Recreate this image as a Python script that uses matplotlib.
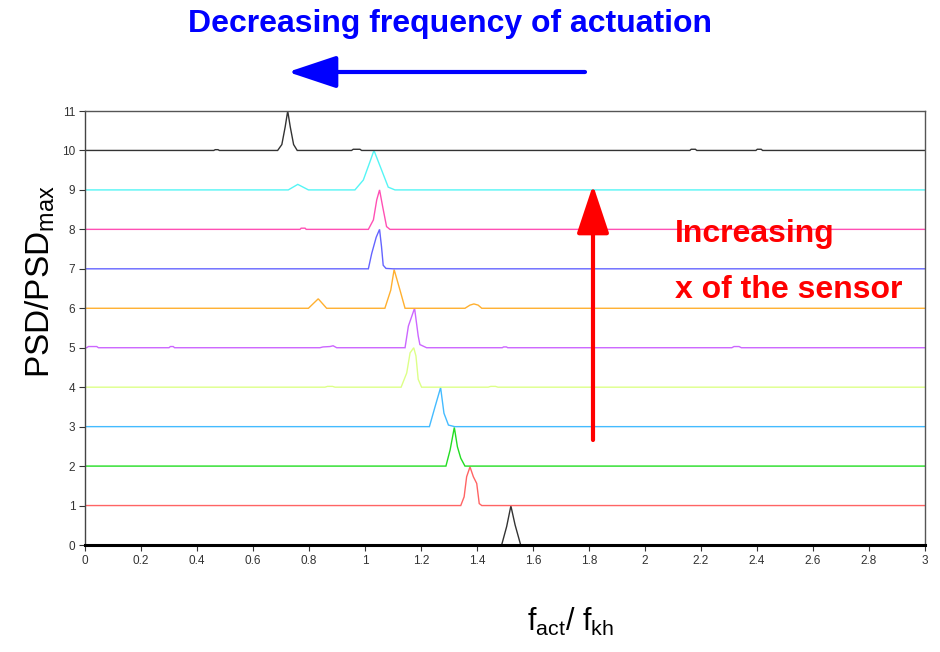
import matplotlib
matplotlib.use("Agg")
import matplotlib.pyplot as plt

plt.rcParams['font.family'] = ['Liberation Sans', 'DejaVu Sans']
plt.rcParams['mathtext.fontset'] = 'custom'
plt.rcParams['mathtext.rm'] = 'Liberation Sans'
plt.rcParams['mathtext.it'] = 'Liberation Sans'

# PSD traces, each stacked on its own baseline (peak heights relative to baseline)
baselines = [0, 1, 2, 3, 4, 5, 6, 7, 8, 9, 10]
colors = ['#333333', '#ff6464', '#22dd22', '#44bbff', '#ddff88', '#cc66ff',
          '#ffb030', '#6464ff', '#ff50b4', '#55f5f5', '#333333']

x0 = [0, 1.488, 1.506, 1.521, 1.536, 1.556, 3]
y0 = [0, 0, 0.47, 0.99, 0.51, 0, 0]

x1 = [0, 1.342, 1.354, 1.363, 1.375, 1.387, 1.399, 1.408, 1.417, 3]
y1 = [0, 0, 0.22, 0.73, 0.98, 0.73, 0.56, 0.05, 0, 0]

x2 = [0, 1.289, 1.304, 1.319, 1.33, 1.342, 1.357, 3]
y2 = [0, 0, 0.41, 0.98, 0.49, 0.2, 0, 0]

x3 = [0, 1.23, 1.25, 1.27, 1.282, 1.298, 1.32, 3]
y3 = [0, 0, 0.5, 0.99, 0.34, 0.04, 0, 0]

x4 = [0, 0.857, 0.866, 0.884, 0.893, 1.129, 1.149, 1.161, 1.174, 1.182, 1.19,
      1.202, 1.44, 1.449, 1.466, 1.475, 3]
y4 = [0, 0, 0.02, 0.02, 0, 0, 0.36, 0.87, 1.0, 0.79, 0.2, 0, 0, 0.02, 0.02, 0, 0]

x5 = [0, 0.006, 0.012, 0.042, 0.048, 0.30, 0.305, 0.315, 0.32, 0.839, 0.85,
      0.875, 0.886, 0.899, 1.143, 1.155, 1.177, 1.19, 1.196, 1.22, 1.49,
      1.495, 1.505, 1.51, 2.31, 2.318, 2.336, 2.344, 3]
y5 = [0, 0, 0.03, 0.03, 0, 0, 0.03, 0.03, 0, 0, 0.02, 0.03, 0.05, 0, 0, 0.55,
      1.0, 0.3, 0.08, 0, 0, 0.02, 0.02, 0, 0, 0.03, 0.03, 0, 0]

x6 = [0, 0.798, 0.833, 0.863, 1.071, 1.092, 1.104, 1.125, 1.143, 1.357, 1.375,
      1.389, 1.404, 1.417, 3]
y6 = [0, 0, 0.24, 0, 0, 0.46, 0.98, 0.46, 0, 0, 0.08, 0.11, 0.08, 0, 0]

x7 = [0, 1.012, 1.024, 1.04, 1.052, 1.059, 1.065, 1.075, 1.1, 3]
y7 = [0, 0, 0.39, 0.8, 1.0, 0.56, 0.09, 0.01, 0, 0]

x8 = [0, 0.768, 0.772, 0.786, 0.79, 1.012, 1.03, 1.042, 1.052, 1.063, 1.077,
      1.089, 3]
y8 = [0, 0, 0.03, 0.03, 0, 0, 0.24, 0.75, 1.0, 0.58, 0.07, 0, 0]

x9 = [0, 0.726, 0.76, 0.798, 0.964, 0.994, 1.018, 1.032, 1.054, 1.083, 1.107, 3]
y9 = [0, 0, 0.14, 0, 0, 0.25, 0.72, 1.0, 0.6, 0.07, 0, 0]

x10 = [0, 0.46, 0.465, 0.475, 0.48, 0.688, 0.703, 0.715, 0.724, 0.733, 0.745,
       0.758, 0.952, 0.958, 0.982, 0.988, 2.16, 2.165, 2.18, 2.185, 2.396,
       2.401, 2.415, 2.42, 3]
y10 = [0, 0, 0.02, 0.02, 0, 0, 0.15, 0.6, 1.0, 0.6, 0.15, 0, 0, 0.03, 0.03, 0,
       0, 0.03, 0.03, 0, 0, 0.03, 0.03, 0, 0]

xs = [x0, x1, x2, x3, x4, x5, x6, x7, x8, x9, x10]
ys = [y0, y1, y2, y3, y4, y5, y6, y7, y8, y9, y10]

xticks = [0, 0.2, 0.4, 0.6, 0.8, 1, 1.2, 1.4, 1.6, 1.8, 2, 2.2, 2.4, 2.6, 2.8, 3]
xticklabels = ['0', '0.2', '0.4', '0.6', '0.8', '1', '1.2', '1.4', '1.6', '1.8',
               '2', '2.2', '2.4', '2.6', '2.8', '3']
yticks = list(range(12))

fig = plt.figure(figsize=(9.4, 6.52), dpi=100)
ax = fig.add_axes([85 / 940, 107 / 652, 840 / 940, 434 / 652])

for b, c, x, y in zip(baselines, colors, xs, ys):
    ax.plot(x, [b + v for v in y], color=c, lw=1.0, solid_joinstyle='miter')

ax.set_xlim(0, 3)
ax.set_ylim(0, 11)
ax.set_xticks(xticks)
ax.set_xticklabels(xticklabels)
ax.set_yticks(yticks)
ax.tick_params(axis='both', direction='out', length=4, width=0.8,
               colors='#333333', labelsize=8.5, pad=3)
for lab in ax.get_xticklabels() + ax.get_yticklabels():
    lab.set_fontstretch('condensed')

ax.spines['bottom'].set_linewidth(2.2)
ax.spines['bottom'].set_color('black')
ax.spines['left'].set_color('#444444')
ax.spines['top'].set_color('#555555')
ax.spines['right'].set_color('#555555')
for s in ['left', 'top', 'right']:
    ax.spines[s].set_linewidth(1.0)

fig.text(40 / 940, 1 - 282 / 652, r'$\mathrm{PSD/PSD}_{\mathrm{max}}$',
         rotation=90, fontsize=24, ha='center', va='center')
fig.text(570 / 940, 1 - 622 / 652, r'$\mathrm{f}_{\mathrm{act}}\mathrm{/\ f}_{\mathrm{kh}}$',
         fontsize=22, ha='center', va='center')

fig.text(450 / 940, 1 - 24 / 652, 'Decreasing frequency of actuation',
         color='#0000ff', fontsize=23, fontweight='bold', ha='center', va='center')
ax.annotate('', xy=(288, 652 - 72), xytext=(585, 652 - 72),
            xycoords='figure pixels', textcoords='figure pixels',
            arrowprops=dict(arrowstyle='-|>,head_length=1.5,head_width=0.5',
                            mutation_scale=20, color='#0000ff', lw=3,
                            shrinkA=0, shrinkB=0))

ax.annotate('', xy=(593, 652 - 185), xytext=(593, 652 - 440),
            xycoords='figure pixels', textcoords='figure pixels',
            arrowprops=dict(arrowstyle='-|>,head_length=1.5,head_width=0.5',
                            mutation_scale=20, color='#ff0000', lw=3,
                            shrinkA=0, shrinkB=0))
fig.text(675 / 940, 1 - 234 / 652, 'Increasing', color='#ff0000', fontsize=23,
         fontweight='bold', ha='left', va='center')
fig.text(675 / 940, 1 - 290 / 652, 'x of the sensor', color='#ff0000', fontsize=23,
         fontweight='bold', ha='left', va='center')

fig.savefig('out.png', dpi=100)
